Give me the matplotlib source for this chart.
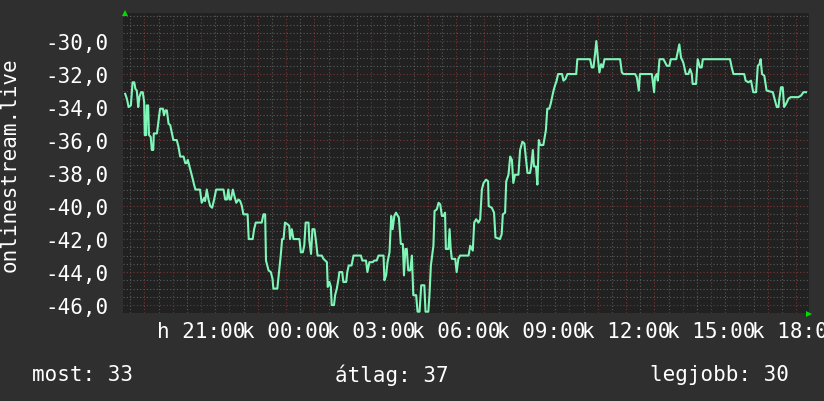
import matplotlib
matplotlib.use('Agg')
import matplotlib.pyplot as plt
from matplotlib.ticker import MultipleLocator, FuncFormatter

plt.rcParams['font.family'] = ['DejaVu Sans Mono', 'DejaVu Sans']

# hours since midnight of day "h" (24+ = next day "k")
hours = [18.32, 18.38, 18.44, 18.52, 18.58, 18.64, 18.68, 18.73, 18.78, 18.82,
         18.88, 18.94, 18.99, 19.01, 19.06, 19.08, 19.13, 19.16, 19.22, 19.26,
         19.31, 19.33, 19.44, 19.49, 19.55, 19.65, 19.69, 19.74, 19.79, 19.85,
         19.91, 19.96, 20.02, 20.14, 20.20, 20.26, 20.38, 20.44, 20.49, 20.53,
         20.59, 20.65, 20.71, 20.75, 20.80, 20.96, 21.02, 21.11, 21.14, 21.20,
         21.26, 21.32, 21.39, 21.46, 21.53, 21.79, 21.85, 21.91, 21.96, 22.00,
         22.05, 22.12, 22.16, 22.24, 22.32, 22.38, 22.44, 22.49, 22.64, 22.68,
         22.82, 22.87, 22.93, 23.14, 23.20, 23.26, 23.29, 23.38, 23.46, 23.52,
         23.55, 23.69, 23.75, 23.81, 23.86, 23.91, 23.96, 24.05, 24.11, 24.14,
         24.20, 24.26, 24.47, 24.52, 24.59, 24.64, 24.69, 24.79, 24.82, 24.88,
         24.93, 25.00, 25.06, 25.11, 25.26, 25.32, 25.44, 25.47, 25.53, 25.58,
         25.61, 25.69, 25.73, 25.79, 25.85, 25.88, 25.98, 26.02, 26.12, 26.16,
         26.21, 26.31, 26.38, 26.64, 26.69, 26.82, 26.87, 26.94, 27.06, 27.11,
         27.20, 27.26, 27.44, 27.47, 27.53, 27.58, 27.65, 27.71, 27.76, 27.82,
         27.88, 27.98, 28.05, 28.12, 28.16, 28.21, 28.26, 28.31, 28.38, 28.44,
         28.49, 28.59, 28.64, 28.71, 28.77, 28.88, 28.92, 29.02, 29.06, 29.11,
         29.20, 29.24, 29.32, 29.38, 29.44, 29.50, 29.55, 29.61, 29.64, 29.73,
         29.77, 29.81, 29.85, 29.97, 30.02, 30.08, 30.14, 30.44, 30.50, 30.59,
         30.64, 30.71, 30.79, 30.85, 30.91, 30.97, 31.06, 31.13, 31.15, 31.26,
         31.34, 31.39, 31.55, 31.61, 31.65, 31.73, 31.77, 31.85, 31.91, 31.97,
         32.02, 32.08, 32.20, 32.26, 32.34, 32.41, 32.47, 32.52, 32.61, 32.65,
         32.71, 32.75, 32.82, 32.87, 32.92, 32.97, 33.08, 33.17, 33.22, 33.29,
         33.34, 33.39, 33.44, 33.49, 33.55, 33.60, 33.74, 33.79, 33.86, 33.93,
         34.24, 34.28, 34.73, 34.79, 34.85, 34.91, 34.95, 35.01, 35.06, 35.12,
         35.18, 35.24, 35.79, 35.85, 35.91, 36.32, 36.38, 36.45, 36.49, 36.91,
         36.94, 36.99, 37.02, 37.08, 37.12, 37.18, 37.32, 37.38, 37.44, 37.53,
         37.58, 37.77, 37.82, 37.88, 37.94, 38.02, 38.11, 38.20, 38.26, 38.32,
         38.35, 38.47, 38.53, 38.61, 38.67, 38.71, 39.67, 39.73, 39.79, 40.17,
         40.22, 40.32, 40.41, 40.49, 40.59, 40.65, 40.71, 40.75, 40.80, 40.88,
         40.96, 41.18, 41.26, 41.32, 41.38, 41.41, 41.47, 41.53, 41.58, 41.65,
         41.73, 41.81, 42.08, 42.18, 42.26, 42.35]

values = [-33.2, -33.5, -34.0, -33.9, -32.5, -32.5, -32.9, -33.0, -34.0, -33.4,
          -33.1, -33.1, -33.7, -35.7, -35.7, -33.9, -33.9, -35.7, -35.8, -36.6,
          -36.6, -35.6, -35.6, -34.9, -34.1, -34.1, -34.5, -34.2, -34.2, -35.0,
          -35.1, -35.5, -36.0, -36.0, -36.4, -37.0, -37.0, -37.4, -37.4, -37.2,
          -37.6, -38.0, -38.4, -38.7, -39.0, -39.0, -39.8, -39.5, -39.7, -39.0,
          -39.6, -40.0, -40.1, -39.6, -39.0, -39.0, -39.6, -39.6, -39.0, -39.6,
          -39.6, -39.0, -39.3, -39.8, -39.6, -39.7, -40.0, -40.5, -40.5, -42.0,
          -42.0, -41.4, -41.0, -41.0, -40.5, -40.5, -43.3, -43.9, -44.0, -44.4,
          -45.0, -45.0, -44.0, -43.0, -42.0, -42.0, -41.0, -41.1, -41.2, -42.0,
          -41.4, -42.0, -42.0, -42.8, -42.8, -42.4, -41.0, -41.0, -42.1, -42.9,
          -41.4, -41.4, -42.2, -43.0, -43.0, -43.2, -43.4, -44.9, -44.6, -44.9,
          -46.0, -46.0, -45.4, -45.0, -44.4, -44.0, -44.0, -44.6, -44.6, -44.0,
          -43.6, -43.6, -43.0, -43.0, -43.3, -43.3, -44.0, -43.4, -43.4, -43.3,
          -43.3, -43.0, -43.0, -44.5, -44.2, -43.4, -42.8, -40.6, -41.4, -40.6,
          -40.4, -40.7, -42.3, -42.3, -44.2, -42.6, -42.6, -43.9, -43.9, -43.0,
          -45.4, -45.4, -46.4, -46.4, -44.8, -44.8, -46.4, -46.4, -45.4, -43.6,
          -42.4, -40.3, -40.2, -39.8, -39.9, -40.6, -40.6, -40.4, -42.6, -42.6,
          -41.4, -42.6, -43.2, -43.2, -44.0, -43.2, -43.0, -43.0, -42.4, -42.7,
          -41.0, -40.8, -41.0, -40.8, -39.0, -38.6, -38.4, -38.5, -40.0, -40.1,
          -40.4, -41.9, -42.0, -41.7, -40.5, -40.4, -38.5, -38.1, -37.0, -37.2,
          -38.6, -38.1, -38.1, -36.6, -36.1, -36.2, -37.2, -38.0, -38.0, -37.6,
          -36.6, -37.6, -37.6, -38.7, -36.0, -36.3, -36.3, -35.4, -34.1, -34.1,
          -33.8, -33.4, -33.0, -32.7, -32.4, -32.0, -32.0, -32.4, -32.3, -32.0,
          -32.0, -31.1, -31.1, -31.6, -31.6, -30.7, -30.0, -31.1, -31.9, -31.4,
          -31.6, -31.1, -31.1, -31.9, -32.0, -32.0, -32.2, -33.0, -32.0, -32.0,
          -32.4, -33.1, -32.2, -32.0, -32.4, -31.1, -31.1, -31.3, -31.5, -31.5,
          -31.1, -31.1, -30.7, -30.2, -31.0, -31.3, -32.0, -32.0, -31.7, -32.0,
          -32.6, -32.6, -31.1, -31.6, -31.6, -31.1, -31.1, -31.6, -32.0, -32.0,
          -32.4, -32.5, -32.4, -33.1, -33.1, -31.5, -31.4, -31.1, -32.0, -32.1,
          -33.0, -33.1, -33.6, -34.0, -34.0, -33.5, -32.8, -32.8, -34.0, -33.8,
          -33.5, -33.4, -33.4, -33.3, -33.1, -33.1]

tick_hours = [21, 24, 27, 30, 33, 36, 39, 42]
tick_labels = ['h 21:00', 'k 00:00', 'k 03:00', 'k 06:00', 'k 09:00',
               'k 12:00', 'k 15:00', 'k 18:00']
stats = [('most: 33', 32), ('átlag: 37', 335), ('legjobb: 30', 650)]

bg = '#2f2f2f'
canvas = '#212121'

fig = plt.figure(figsize=(8.24, 4.02), dpi=100, facecolor=bg)
ax = fig.add_axes([123.5 / 824, 88 / 402, 685 / 824, 300.5 / 402])
ax.set_facecolor(canvas)

ax.plot(hours, values, color='#7ff5b8', lw=1.5, zorder=3)

ax.set_xlim(18.26, 42.44)
ax.set_ylim(-46.48, -28.27)

# red grid every hour / 2 units, grey every half hour / half unit
ax.xaxis.set_major_locator(MultipleLocator(1))
ax.xaxis.set_minor_locator(MultipleLocator(0.5))
ax.yaxis.set_major_locator(MultipleLocator(2))
ax.yaxis.set_minor_locator(MultipleLocator(0.5))
ax.grid(which='minor', color='#5a5a5a', lw=0.8, ls=(0, (1, 2)))
ax.grid(which='major', color='#7a3434', lw=0.8, ls=(0, (1, 2)))
ax.set_axisbelow(True)

labels = dict(zip(tick_hours, tick_labels))
ax.xaxis.set_major_formatter(FuncFormatter(
    lambda v, p: labels.get(int(round(v)), '')))
ax.yaxis.set_major_formatter(FuncFormatter(
    lambda v, p: ('%.1f' % v).replace('.', ',') if -46.1 < v < -29.9 else ''))

ax.tick_params(axis='both', which='both', length=0, colors='white', labelsize=15)
ax.tick_params(axis='x', pad=6)
ax.tick_params(axis='y', pad=11)
for s in ax.spines.values():
    s.set_visible(False)

fig.text(10 / 824, 1 - 165 / 402, 'onlinestream.live', rotation=90,
         color='white', fontsize=15, ha='center', va='center')

for txt, x in stats:
    fig.text(x / 824, 1 - 375 / 402, txt, color='white', fontsize=15,
             ha='left', va='center')

# rrdtool style axis arrows
ax.plot([0.002], [1.0], marker='^', color='#00dd00', ms=5, mew=0,
        transform=ax.transAxes, clip_on=False)
ax.plot([1.0], [-0.002], marker='>', color='#00dd00', ms=5, mew=0,
        transform=ax.transAxes, clip_on=False)

fig.savefig('out.png', dpi=100, facecolor=bg)
